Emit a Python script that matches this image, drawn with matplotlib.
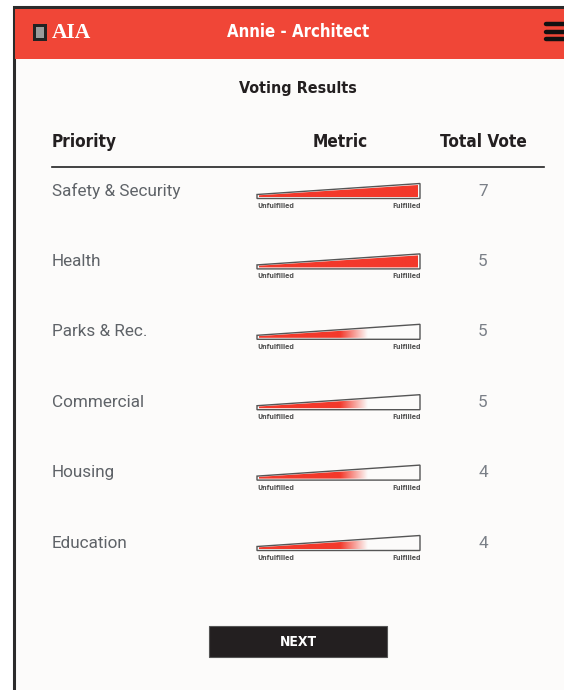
import numpy as np
import matplotlib.pyplot as plt
from matplotlib.patches import Rectangle, Polygon

# table contents
priorities = ["Safety & Security", "Health", "Parks & Rec.", "Commercial", "Housing", "Education"]
votes = [7, 5, 5, 5, 4, 4]
# how far the red fill reaches along the metric wedge (0..1), and whether it fades out
fulfilled = [1.0, 1.0, 0.68, 0.68, 0.68, 0.68]
faded = [False, False, True, True, True, True]

title = "Annie - Architect"
subtitle = "Voting Results"
columns = ["Priority", "Metric", "Total Vote"]

red = "#f04637"
bg = "#fcfbfa"
dark = "#231f20"
cond = dict(family="DejaVu Sans", fontstretch="condensed", fontweight="bold")

fig = plt.figure(figsize=(5.64, 6.9), dpi=100)
ax = fig.add_axes([0, 0, 1, 1])
ax.set_xlim(0, 564)
ax.set_ylim(690, 0)
ax.axis("off")

# screen frame
ax.add_patch(Rectangle((14, 7), 560, 700, facecolor=bg, edgecolor="#2b2b2b", lw=2.2, zorder=0))
ax.add_patch(Rectangle((15, 9), 560, 50, facecolor=red, edgecolor="none", zorder=0.5))

# header bar
ax.add_patch(Rectangle((33, 24), 14, 17, facecolor="#222222", edgecolor="none"))
ax.add_patch(Rectangle((36, 27), 8, 11, facecolor="#9a9a9a", edgecolor="none"))
ax.text(52, 33, "AIA", color="white", fontsize=15.5, fontweight="bold",
        family="Liberation Serif", ha="left", va="center")
ax.text(298, 32, title, color="white", fontsize=12, **cond, ha="center", va="center")
for yy in [24, 31.5, 39]:
    ax.plot([546, 564], [yy, yy], color="#111111", lw=3.2, solid_capstyle="round")

ax.text(298, 89, subtitle, color=dark, fontsize=11.5, **cond, ha="center", va="center")

col_x = [52, 340, 483]
col_ha = ["left", "center", "center"]
for cx, ha, name in zip(col_x, col_ha, columns):
    ax.text(cx, 142, name, color=dark, fontsize=12.3, **cond, ha=ha, va="center")
ax.plot([52, 544], [167, 167], color="#222222", lw=1.2)

# metric wedge geometry
x0, x1 = 257, 420
row_gap = 70.4
n = 400
fill_rgb = np.array([0xf3, 0x39, 0x2b]) / 255

for i, (name, v, f, fade) in enumerate(zip(priorities, votes, fulfilled, faded)):
    y = 191 + i * row_gap
    yb = y + 7.5
    ax.text(52, y, name, color="#5f6368", fontsize=12.3, family="Roboto",
            ha="left", va="center")
    ax.text(483, y, str(v), color="#7a7f87", fontsize=12.3, family="Roboto",
            ha="center", va="center")

    wedge = [(x0, yb), (x0, yb - 4), (x1, yb - 15), (x1, yb)]
    clip = Polygon([(x0 + 2, yb - 1.5), (x0 + 2, yb - 3.2), (x1 - 2, yb - 13.5), (x1 - 2, yb - 1.5)],
                   closed=True, transform=ax.transData)
    xs = x0 + np.linspace(0, 1, n) * (x1 - x0)
    if fade:
        end = x0 + f * (x1 - x0)
        solid_end = end - 0.17 * (x1 - x0)
        alpha = np.clip((end - xs) / (end - solid_end), 0, 1)
    else:
        alpha = np.ones(n)
    rgba = np.zeros((1, n, 4))
    rgba[..., :3] = fill_rgb
    rgba[0, :, 3] = alpha
    im = ax.imshow(rgba, extent=(x0, x1, yb, yb - 16), aspect="auto",
                   interpolation="bilinear", zorder=2)
    im.set_clip_path(clip)
    ax.add_patch(Polygon(wedge, closed=True, facecolor="none", edgecolor="#555555",
                         lw=1.0, zorder=3))
    ax.text(x0, yb + 7.5, "Unfulfilled", color="#555555", fontsize=5, **cond,
            ha="left", va="center")
    ax.text(x1 + 1, yb + 7.5, "Fulfilled", color="#555555", fontsize=5, **cond,
            ha="right", va="center")

# button
ax.add_patch(Rectangle((209, 626), 178, 31, facecolor=dark, edgecolor="#555555", lw=0.8))
ax.text(298, 641.5, "NEXT", color="white", fontsize=10, **cond, ha="center", va="center")

ax.set_xlim(0, 564)
ax.set_ylim(690, 0)
fig.savefig("out.png", dpi=100, facecolor="white")
